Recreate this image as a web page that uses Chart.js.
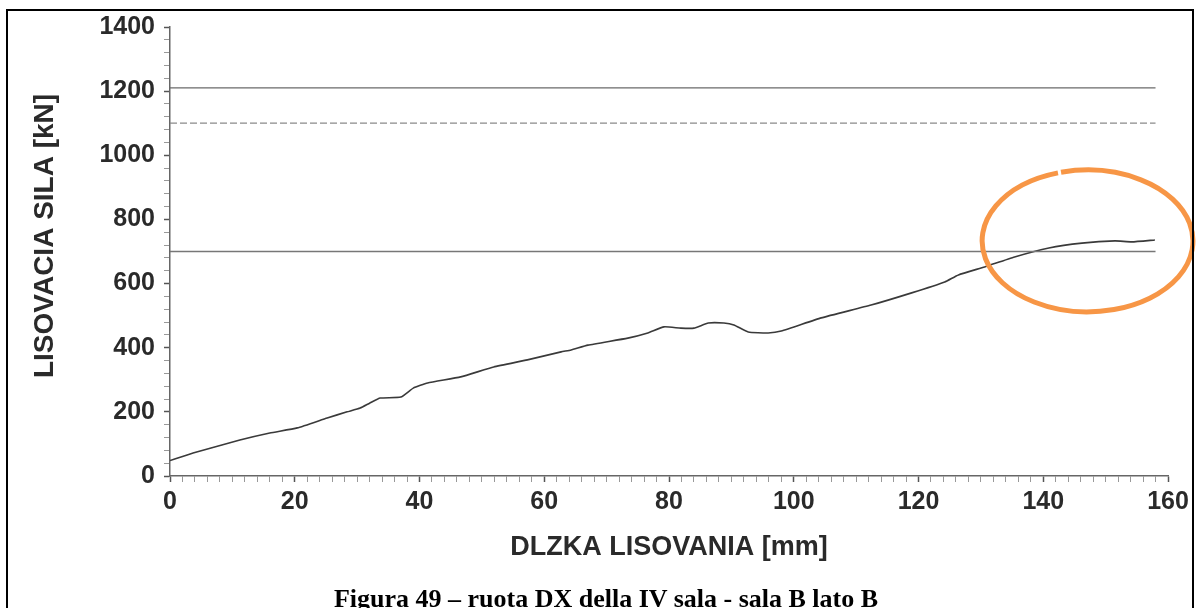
<!DOCTYPE html>
<html>
<head>
<meta charset="utf-8">
<script src="https://cdn.jsdelivr.net/npm/chart.js@4.4.1/dist/chart.umd.min.js"></script>
<style>
  html, body { margin: 0; padding: 0; background: #fff; overflow: hidden; }
  #wrap { position: relative; width: 1197px; height: 608px; overflow: hidden; }
  #frame { position: absolute; left: 6px; top: 9px; width: 1188px; height: 620px;
           border: 2px solid #000; border-bottom: none; box-sizing: border-box; pointer-events: none; }
  #caption { position: absolute; left: 0; top: 586px; width: 1212px; text-align: center;
             font: bold 26px "Liberation Serif", "Times New Roman", serif; line-height: 26px; color: #000; white-space: nowrap; }
  canvas { position: absolute; left: 0; top: 0; }
</style>
</head>
<body>
<div id="wrap">
  <canvas id="c" width="1197" height="608"></canvas>
  <div id="frame"></div>
  <div id="caption">Figura 49 – ruota DX della IV sala - sala B lato B</div>
</div>
<script>
// ---- data ----
const lengthMm = [0, 3.7, 11.2, 16, 20.4, 25.2, 28.4, 30.5, 32, 33.7, 37, 39, 41.3, 46.6, 51.9, 57.3, 62.7, 64.3, 67, 73.4, 76.6, 79.2, 81.9, 84, 86.3, 88.8, 90.4, 92.7, 95.9, 98, 104.4, 112.4, 118.9, 124.2, 126.4, 130.6, 135.4, 140.9, 146.2, 151.5, 154.2, 157.9];
const forceKn  = [48, 72, 112, 134, 150, 181, 200, 212, 227, 243, 246, 274, 290, 309, 340, 362, 387, 393, 408, 430, 446, 465, 461, 461, 477, 477, 471, 449, 446, 452, 493, 533, 571, 605, 627, 652, 683, 711, 726, 733, 730, 736];
const limitValues = [1210, 1100, 700];
const limitSpan = [0, 158];
const xTickLabels = [0, 20, 40, 60, 80, 100, 120, 140, 160];
const yTickLabels = [0, 200, 400, 600, 800, 1000, 1200, 1400];
const highlight = { x: 147.1, y: 733, rx: 16.9, ry: 221 };

const curve = lengthMm.map((x, i) => ({ x: x, y: forceKn[i] }));
const limitStyles = [
  { color: '#6a6a6a', width: 1.3, dash: [] },
  { color: '#8a8a8a', width: 1.2, dash: [7, 3] },
  { color: '#777777', width: 1.3, dash: [] }
];
const limitSets = limitValues.map((v, i) => ({
  data: limitSpan.map(x => ({ x: x, y: v })),
  borderColor: limitStyles[i].color,
  borderWidth: limitStyles[i].width,
  borderDash: limitStyles[i].dash,
  pointRadius: 0,
  tension: 0
}));

const ellipsePlugin = {
  id: 'ellipse',
  afterDatasetsDraw(chart) {
    const { ctx, scales: { x, y } } = chart;
    const cx = x.getPixelForValue(highlight.x);
    const cy = y.getPixelForValue(highlight.y);
    const rx = x.getPixelForValue(highlight.x + highlight.rx) - cx;
    const ry = cy - y.getPixelForValue(highlight.y + highlight.ry);
    ctx.save();
    ctx.strokeStyle = '#F79646';
    ctx.lineWidth = 5;
    const gapAngle = -1.84;
    ctx.beginPath();
    ctx.ellipse(cx, cy, rx, ry, 0, gapAngle + 0.015, gapAngle + 2 * Math.PI - 0.015);
    ctx.stroke();
    ctx.restore();
  }
};

const tickFont = { family: '"Liberation Sans", Arial, sans-serif', size: 25, weight: 'bold' };
const xTitleFont = { family: '"Liberation Sans", Arial, sans-serif', size: 27, weight: 'bold' };
const yTitleFont = { family: '"Liberation Sans", Arial, sans-serif', size: 28, weight: 'bold' };

new Chart(document.getElementById('c'), {
  type: 'line',
  data: {
    datasets: [
      ...limitSets,
      { data: curve, borderColor: '#3a3a3a', borderWidth: 1.6, pointRadius: 0, tension: 0.15 }
    ]
  },
  options: {
    responsive: false,
    animation: false,
    devicePixelRatio: 1,
    layout: { padding: { left: 28, top: 27, right: 29, bottom: 44 } },
    plugins: { legend: { display: false }, tooltip: { enabled: false } },
    scales: {
      x: {
        type: 'linear', min: 0, max: 160,
        afterFit(s) { s.height = 88; },
        afterBuildTicks(s) { const t = []; for (let v = 0; v <= 160; v += 2) t.push({ value: v }); s.ticks = t; },
        ticks: {
          autoSkip: false, maxRotation: 0, padding: 5, color: '#2a2a2a', font: tickFont,
          callback: v => xTickLabels.includes(v) ? String(v) : ''
        },
        grid: {
          drawOnChartArea: false, drawTicks: true, tickLength: 6,
          tickColor: c => xTickLabels.includes(c.tick && c.tick.value) ? '#555' : '#999',
          tickWidth: c => xTickLabels.includes(c.tick && c.tick.value) ? 1.5 : 1
        },
        border: { display: true, color: '#666', width: 1.5 },
        title: { display: true, text: 'DLZKA LISOVANIA [mm]', color: '#2a2a2a', font: xTitleFont, padding: 0 }
      },
      y: {
        type: 'linear', min: 0, max: 1400,
        afterFit(s) { s.width = 142; },
        afterBuildTicks(s) { const t = []; for (let v = 0; v <= 1400; v += 40) t.push({ value: v }); s.ticks = t; },
        ticks: {
          autoSkip: false, padding: 9, color: '#2a2a2a', font: tickFont,
          callback: v => yTickLabels.includes(v) ? String(v) : ''
        },
        grid: {
          drawOnChartArea: false, drawTicks: true, tickLength: 6,
          tickColor: c => yTickLabels.includes(c.tick && c.tick.value) ? '#555' : '#999',
          tickWidth: c => yTickLabels.includes(c.tick && c.tick.value) ? 1.5 : 1
        },
        border: { display: true, color: '#666', width: 1.5 },
        title: { display: true, text: '    LISOVACIA SILA [kN]', color: '#2a2a2a', font: yTitleFont, padding: 0 }
      }
    }
  },
  plugins: [ellipsePlugin]
});
</script>
</body>
</html>
